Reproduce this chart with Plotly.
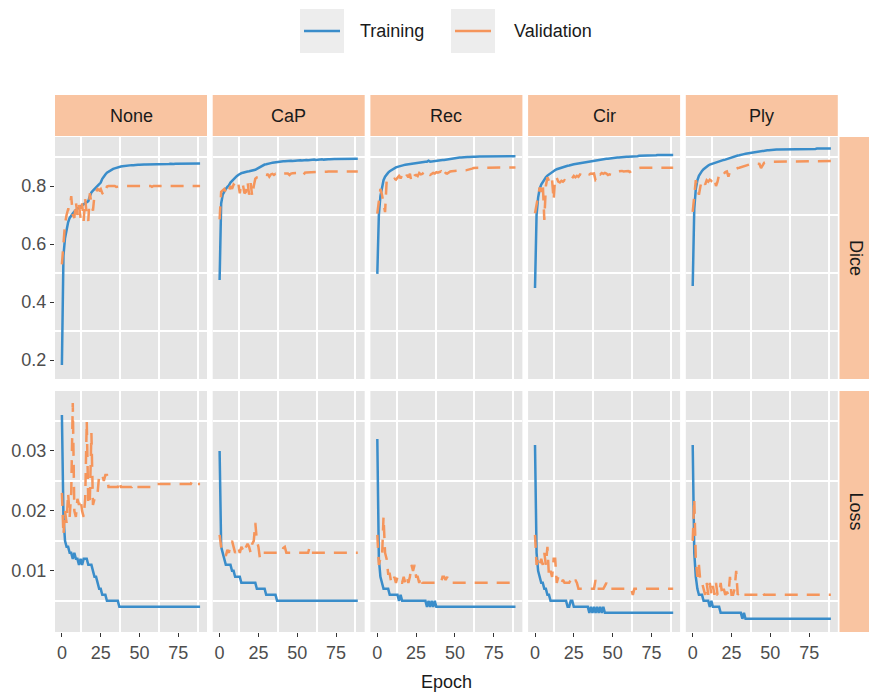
import plotly.graph_objects as go

# ---------------- data ----------------
MODELS = ["None", "CaP", "Rec", "Cir", "Ply"]
METRICS = ["Dice", "Loss"]
SERIES = ["Training", "Validation"]
X_TICKS = [0, 25, 50, 75]
DICE_TICKS = [0.2, 0.4, 0.6, 0.8]
DICE_TICK_TEXT = ["0.2", "0.4", "0.6", "0.8"]
LOSS_TICKS = [0.01, 0.02, 0.03]
LOSS_TICK_TEXT = ["0.01", "0.02", "0.03"]

NONE_TRAIN_DICE = [
    0.183, 0.560, 0.620, 0.655, 0.675, 0.690, 0.700, 0.705, 0.712, 0.718,
    0.722, 0.726, 0.730, 0.735, 0.738, 0.742, 0.745, 0.748, 0.765, 0.778,
    0.784, 0.790, 0.795, 0.800, 0.806, 0.812, 0.825, 0.834, 0.840, 0.846,
    0.850, 0.853, 0.856, 0.859, 0.861, 0.863, 0.864, 0.866, 0.867, 0.868,
    0.869, 0.870, 0.870, 0.871, 0.871, 0.872, 0.872, 0.873, 0.872, 0.873,
    0.873, 0.874, 0.873, 0.874, 0.874, 0.874, 0.875, 0.874, 0.875, 0.875,
    0.875, 0.875, 0.876, 0.875, 0.876, 0.876, 0.875, 0.876, 0.876, 0.876,
    0.877, 0.876, 0.876, 0.877, 0.877, 0.876, 0.877, 0.877, 0.877, 0.877,
    0.877, 0.877, 0.878, 0.877, 0.877, 0.878, 0.878, 0.877, 0.878, 0.878]
NONE_VAL_DICE = [
    0.530, 0.620, 0.670, 0.700, 0.720, 0.720, 0.765, 0.700, 0.690, 0.745,
    0.700, 0.735, 0.690, 0.740, 0.680, 0.755, 0.700, 0.680, 0.775, 0.740,
    0.715, 0.770, 0.780, 0.790, 0.785, 0.790, 0.775, 0.768, 0.785, 0.798,
    0.800, 0.800, 0.800, 0.800, 0.800, 0.797, 0.798, 0.800, 0.800, 0.800,
    0.800, 0.800, 0.800, 0.800, 0.798, 0.800, 0.800, 0.800, 0.800, 0.800,
    0.800, 0.800, 0.800, 0.800, 0.800, 0.800, 0.800, 0.800, 0.797, 0.800,
    0.800, 0.800, 0.800, 0.800, 0.800, 0.800, 0.800, 0.800, 0.800, 0.800,
    0.800, 0.800, 0.800, 0.800, 0.800, 0.800, 0.800, 0.800, 0.800, 0.800,
    0.800, 0.800, 0.800, 0.800, 0.800, 0.800, 0.800, 0.800, 0.800, 0.800]
NONE_TRAIN_LOSS = [
    0.036, 0.019, 0.015, 0.014, 0.014, 0.013, 0.013, 0.012, 0.013, 0.012,
    0.012, 0.011, 0.012, 0.011, 0.012, 0.012, 0.012, 0.011, 0.011, 0.011,
    0.010, 0.009, 0.009, 0.008, 0.007, 0.007, 0.006, 0.006, 0.006, 0.005,
    0.005, 0.005, 0.005, 0.005, 0.005, 0.005, 0.005, 0.004, 0.004, 0.004,
    0.004, 0.004, 0.004, 0.004, 0.004, 0.004, 0.004, 0.004, 0.004, 0.004,
    0.004, 0.004, 0.004, 0.004, 0.004, 0.004, 0.004, 0.004, 0.004, 0.004,
    0.004, 0.004, 0.004, 0.004, 0.004, 0.004, 0.004, 0.004, 0.004, 0.004,
    0.004, 0.004, 0.004, 0.004, 0.004, 0.004, 0.004, 0.004, 0.004, 0.004,
    0.004, 0.004, 0.004, 0.004, 0.004, 0.004, 0.004, 0.004, 0.004, 0.004]
NONE_VAL_LOSS = [
    0.023, 0.016, 0.020, 0.018, 0.023, 0.019, 0.023, 0.038, 0.020, 0.019,
    0.022, 0.021, 0.022, 0.020, 0.019, 0.022, 0.035, 0.021, 0.022, 0.033,
    0.021, 0.022, 0.022, 0.023, 0.026, 0.026, 0.026, 0.025, 0.026, 0.026,
    0.024, 0.024, 0.024, 0.024, 0.024, 0.024, 0.024, 0.025, 0.024, 0.024,
    0.024, 0.024, 0.024, 0.024, 0.024, 0.024, 0.0245, 0.024, 0.024, 0.024,
    0.024, 0.024, 0.024, 0.024, 0.024, 0.024, 0.024, 0.024, 0.024, 0.0245,
    0.0245, 0.0245, 0.0245, 0.0245, 0.0245, 0.0245, 0.0245, 0.0245, 0.0245, 0.0245,
    0.0245, 0.0245, 0.0245, 0.0245, 0.0245, 0.0245, 0.0245, 0.0245, 0.0245, 0.0245,
    0.0245, 0.0245, 0.0245, 0.0245, 0.025, 0.0245, 0.0245, 0.0245, 0.0245, 0.0245]

CAP_TRAIN_DICE = [
    0.476, 0.740, 0.770, 0.782, 0.790, 0.797, 0.802, 0.812, 0.818, 0.824,
    0.830, 0.834, 0.838, 0.842, 0.844, 0.846, 0.848, 0.849, 0.850, 0.851,
    0.852, 0.853, 0.854, 0.856, 0.859, 0.862, 0.866, 0.869, 0.872, 0.874,
    0.875, 0.877, 0.878, 0.879, 0.880, 0.881, 0.882, 0.882, 0.883, 0.884,
    0.884, 0.885, 0.885, 0.886, 0.886, 0.887, 0.887, 0.886, 0.887, 0.888,
    0.888, 0.888, 0.889, 0.888, 0.889, 0.889, 0.890, 0.889, 0.890, 0.890,
    0.890, 0.891, 0.890, 0.891, 0.891, 0.891, 0.892, 0.891, 0.892, 0.892,
    0.892, 0.892, 0.893, 0.892, 0.893, 0.893, 0.893, 0.893, 0.893, 0.894,
    0.893, 0.894, 0.894, 0.894, 0.894, 0.894, 0.894, 0.894, 0.894, 0.894]
CAP_VAL_DICE = [
    0.685, 0.780, 0.785, 0.790, 0.780, 0.795, 0.785, 0.800, 0.790, 0.805,
    0.800, 0.795, 0.810, 0.775, 0.810, 0.805, 0.775, 0.780, 0.815, 0.770,
    0.810, 0.765, 0.800, 0.825, 0.830, 0.830, 0.832, 0.835, 0.838, 0.840,
    0.838, 0.840, 0.832, 0.840, 0.842, 0.838, 0.842, 0.840, 0.843, 0.842,
    0.843, 0.842, 0.843, 0.844, 0.843, 0.838, 0.843, 0.844, 0.845, 0.844,
    0.845, 0.845, 0.846, 0.845, 0.838, 0.846, 0.847, 0.847, 0.847, 0.848,
    0.848, 0.848, 0.848, 0.849, 0.849, 0.849, 0.849, 0.849, 0.849, 0.849,
    0.850, 0.850, 0.850, 0.850, 0.850, 0.850, 0.850, 0.850, 0.850, 0.850,
    0.850, 0.850, 0.850, 0.850, 0.850, 0.850, 0.850, 0.850, 0.850, 0.850]
CAP_TRAIN_LOSS = [
    0.030, 0.014, 0.013, 0.012, 0.011, 0.011, 0.011, 0.011, 0.010, 0.010,
    0.009, 0.009, 0.009, 0.009, 0.008, 0.008, 0.008, 0.008, 0.008, 0.008,
    0.008, 0.008, 0.008, 0.008, 0.007, 0.007, 0.007, 0.007, 0.007, 0.007,
    0.006, 0.006, 0.006, 0.006, 0.006, 0.006, 0.006, 0.005, 0.005, 0.005,
    0.005, 0.005, 0.005, 0.005, 0.005, 0.005, 0.005, 0.005, 0.005, 0.005,
    0.005, 0.005, 0.005, 0.005, 0.005, 0.005, 0.005, 0.005, 0.005, 0.005,
    0.005, 0.005, 0.005, 0.005, 0.005, 0.005, 0.005, 0.005, 0.005, 0.005,
    0.005, 0.005, 0.005, 0.005, 0.005, 0.005, 0.005, 0.005, 0.005, 0.005,
    0.005, 0.005, 0.005, 0.005, 0.005, 0.005, 0.005, 0.005, 0.005, 0.005]
CAP_VAL_LOSS = [
    0.016, 0.014, 0.0135, 0.013, 0.0125, 0.0135, 0.013, 0.0145, 0.015, 0.014,
    0.013, 0.0135, 0.014, 0.013, 0.014, 0.0135, 0.013, 0.014, 0.0145, 0.014,
    0.013, 0.0145, 0.015, 0.018, 0.015, 0.014, 0.012, 0.0125, 0.013, 0.013,
    0.013, 0.013, 0.013, 0.013, 0.013, 0.013, 0.013, 0.013, 0.013, 0.013,
    0.013, 0.0138, 0.014, 0.013, 0.013, 0.013, 0.013, 0.013, 0.013, 0.013,
    0.013, 0.013, 0.013, 0.013, 0.013, 0.013, 0.013, 0.013, 0.014, 0.013,
    0.013, 0.013, 0.013, 0.013, 0.013, 0.013, 0.013, 0.013, 0.013, 0.013,
    0.013, 0.013, 0.013, 0.013, 0.013, 0.013, 0.013, 0.013, 0.013, 0.013,
    0.013, 0.013, 0.013, 0.013, 0.013, 0.013, 0.013, 0.013, 0.013, 0.013]

REC_TRAIN_DICE = [
    0.497, 0.700, 0.765, 0.800, 0.820, 0.832, 0.840, 0.846, 0.851, 0.855,
    0.858, 0.861, 0.864, 0.866, 0.868, 0.869, 0.870, 0.872, 0.873, 0.874,
    0.875, 0.876, 0.877, 0.878, 0.879, 0.879, 0.880, 0.881, 0.882, 0.882,
    0.883, 0.884, 0.884, 0.887, 0.884, 0.885, 0.886, 0.887, 0.887, 0.888,
    0.888, 0.889, 0.890, 0.890, 0.891, 0.892, 0.893, 0.894, 0.895, 0.895,
    0.896, 0.897, 0.897, 0.898, 0.898, 0.899, 0.899, 0.900, 0.900, 0.900,
    0.901, 0.901, 0.901, 0.901, 0.902, 0.902, 0.902, 0.902, 0.902, 0.902,
    0.902, 0.903, 0.903, 0.903, 0.903, 0.903, 0.903, 0.903, 0.903, 0.903,
    0.903, 0.903, 0.903, 0.903, 0.903, 0.903, 0.903, 0.903, 0.903, 0.903]
REC_VAL_DICE = [
    0.705, 0.760, 0.790, 0.770, 0.740, 0.710, 0.815, 0.820, 0.818, 0.822,
    0.820, 0.825, 0.822, 0.830, 0.835, 0.826, 0.838, 0.832, 0.825, 0.838,
    0.830, 0.842, 0.815, 0.828, 0.836, 0.838, 0.834, 0.845, 0.840, 0.842,
    0.846, 0.850, 0.840, 0.843, 0.838, 0.842, 0.845, 0.843, 0.848, 0.846,
    0.847, 0.850, 0.832, 0.840, 0.845, 0.843, 0.848, 0.850, 0.851, 0.852,
    0.852, 0.853, 0.853, 0.853, 0.854, 0.853, 0.854, 0.854, 0.855, 0.856,
    0.858, 0.860, 0.862, 0.863, 0.863, 0.863, 0.863, 0.863, 0.863, 0.863,
    0.864, 0.864, 0.864, 0.864, 0.864, 0.864, 0.864, 0.864, 0.864, 0.864,
    0.864, 0.864, 0.864, 0.864, 0.864, 0.864, 0.864, 0.864, 0.864, 0.864]
REC_TRAIN_LOSS = [
    0.032, 0.012, 0.009, 0.008, 0.007, 0.007, 0.007, 0.007, 0.006, 0.006,
    0.006, 0.006, 0.006, 0.006, 0.005, 0.006, 0.005, 0.005, 0.005, 0.005,
    0.005, 0.005, 0.005, 0.005, 0.005, 0.005, 0.005, 0.005, 0.005, 0.005,
    0.005, 0.005, 0.004, 0.005, 0.004, 0.005, 0.004, 0.005, 0.004, 0.004,
    0.004, 0.004, 0.004, 0.004, 0.004, 0.004, 0.004, 0.004, 0.004, 0.004,
    0.004, 0.004, 0.004, 0.004, 0.004, 0.004, 0.004, 0.004, 0.004, 0.004,
    0.004, 0.004, 0.004, 0.004, 0.004, 0.004, 0.004, 0.004, 0.004, 0.004,
    0.004, 0.004, 0.004, 0.004, 0.004, 0.004, 0.004, 0.004, 0.004, 0.004,
    0.004, 0.004, 0.004, 0.004, 0.004, 0.004, 0.004, 0.004, 0.004, 0.004]
REC_VAL_LOSS = [
    0.016, 0.011, 0.012, 0.012, 0.019, 0.013, 0.012, 0.0095, 0.0095, 0.008,
    0.008, 0.009, 0.008, 0.009, 0.009, 0.008, 0.008, 0.009, 0.008, 0.009,
    0.008, 0.009, 0.011, 0.010, 0.011, 0.009, 0.009, 0.008, 0.009, 0.008,
    0.008, 0.008, 0.008, 0.008, 0.008, 0.008, 0.008, 0.008, 0.008, 0.008,
    0.008, 0.008, 0.009, 0.009, 0.0085, 0.009, 0.008, 0.008, 0.008, 0.008,
    0.008, 0.008, 0.008, 0.008, 0.008, 0.008, 0.008, 0.008, 0.008, 0.008,
    0.008, 0.008, 0.008, 0.008, 0.008, 0.008, 0.008, 0.008, 0.008, 0.008,
    0.008, 0.008, 0.008, 0.008, 0.008, 0.008, 0.008, 0.008, 0.008, 0.008,
    0.008, 0.008, 0.008, 0.008, 0.008, 0.008, 0.008, 0.008, 0.008, 0.008]

CIR_TRAIN_DICE = [
    0.448, 0.700, 0.760, 0.790, 0.805, 0.815, 0.822, 0.830, 0.836, 0.840,
    0.845, 0.850, 0.852, 0.855, 0.858, 0.860, 0.862, 0.864, 0.866, 0.867,
    0.869, 0.870, 0.871, 0.873, 0.874, 0.875, 0.876, 0.877, 0.878, 0.879,
    0.880, 0.881, 0.882, 0.883, 0.884, 0.885, 0.886, 0.887, 0.888, 0.889,
    0.890, 0.890, 0.891, 0.892, 0.892, 0.893, 0.894, 0.894, 0.895, 0.896,
    0.896, 0.897, 0.897, 0.898, 0.898, 0.899, 0.899, 0.900, 0.900, 0.901,
    0.901, 0.901, 0.902, 0.902, 0.903, 0.903, 0.903, 0.904, 0.904, 0.904,
    0.905, 0.905, 0.905, 0.905, 0.906, 0.906, 0.906, 0.906, 0.906, 0.907,
    0.907, 0.907, 0.907, 0.907, 0.907, 0.907, 0.907, 0.907, 0.907, 0.907]
CIR_VAL_DICE = [
    0.706, 0.740, 0.775, 0.795, 0.780, 0.810, 0.683, 0.800, 0.830, 0.815,
    0.805, 0.820, 0.752, 0.830, 0.828, 0.815, 0.812, 0.818, 0.815, 0.820,
    0.818, 0.822, 0.825, 0.820, 0.826, 0.835, 0.830, 0.835, 0.832, 0.840,
    0.838, 0.842, 0.836, 0.840, 0.842, 0.840, 0.843, 0.842, 0.843, 0.820,
    0.822, 0.843, 0.840, 0.845, 0.842, 0.845, 0.843, 0.838, 0.840, 0.838,
    0.840, 0.842, 0.845, 0.850, 0.851, 0.850, 0.852, 0.850, 0.851, 0.853,
    0.852, 0.848, 0.852, 0.855, 0.858, 0.860, 0.862, 0.862, 0.863, 0.863,
    0.863, 0.863, 0.863, 0.863, 0.863, 0.863, 0.863, 0.863, 0.863, 0.863,
    0.863, 0.863, 0.863, 0.863, 0.863, 0.863, 0.863, 0.863, 0.863, 0.863]
CIR_TRAIN_LOSS = [
    0.031, 0.013, 0.010, 0.009, 0.008, 0.008, 0.007, 0.007, 0.006, 0.006,
    0.005, 0.005, 0.005, 0.005, 0.005, 0.005, 0.005, 0.005, 0.005, 0.005,
    0.005, 0.004, 0.004, 0.005, 0.005, 0.004, 0.004, 0.004, 0.004, 0.004,
    0.004, 0.004, 0.004, 0.004, 0.004, 0.003, 0.004, 0.003, 0.004, 0.003,
    0.004, 0.003, 0.004, 0.003, 0.004, 0.003, 0.003, 0.003, 0.003, 0.003,
    0.003, 0.003, 0.003, 0.003, 0.003, 0.003, 0.003, 0.003, 0.003, 0.003,
    0.003, 0.003, 0.003, 0.003, 0.003, 0.003, 0.003, 0.003, 0.003, 0.003,
    0.003, 0.003, 0.003, 0.003, 0.003, 0.003, 0.003, 0.003, 0.003, 0.003,
    0.003, 0.003, 0.003, 0.003, 0.003, 0.003, 0.003, 0.003, 0.003, 0.003]
CIR_VAL_LOSS = [
    0.016, 0.011, 0.012, 0.011, 0.012, 0.011, 0.013, 0.011, 0.014, 0.009,
    0.010, 0.009, 0.012, 0.012, 0.008, 0.009, 0.008, 0.008, 0.0085, 0.008,
    0.008, 0.008, 0.008, 0.0085, 0.008, 0.008, 0.0085, 0.008, 0.007, 0.007,
    0.007, 0.007, 0.007, 0.007, 0.007, 0.007, 0.007, 0.007, 0.007, 0.0085,
    0.007, 0.007, 0.007, 0.007, 0.007, 0.0075, 0.008, 0.007, 0.007, 0.007,
    0.007, 0.007, 0.007, 0.007, 0.007, 0.007, 0.007, 0.007, 0.007, 0.007,
    0.007, 0.007, 0.007, 0.006, 0.007, 0.007, 0.007, 0.007, 0.007, 0.007,
    0.007, 0.007, 0.007, 0.007, 0.007, 0.007, 0.007, 0.007, 0.007, 0.007,
    0.007, 0.007, 0.007, 0.007, 0.007, 0.007, 0.007, 0.007, 0.007, 0.007]

PLY_TRAIN_DICE = [
    0.455, 0.720, 0.790, 0.820, 0.835, 0.845, 0.852, 0.858, 0.863, 0.868,
    0.871, 0.874, 0.876, 0.878, 0.880, 0.882, 0.884, 0.886, 0.887, 0.889,
    0.890, 0.891, 0.893, 0.895, 0.896, 0.898, 0.899, 0.901, 0.903, 0.905,
    0.906, 0.908, 0.909, 0.910, 0.911, 0.912, 0.913, 0.914, 0.915, 0.916,
    0.917, 0.918, 0.919, 0.920, 0.920, 0.921, 0.922, 0.922, 0.923, 0.923,
    0.924, 0.924, 0.925, 0.925, 0.926, 0.926, 0.926, 0.927, 0.927, 0.927,
    0.927, 0.927, 0.928, 0.928, 0.928, 0.928, 0.928, 0.928, 0.928, 0.928,
    0.928, 0.928, 0.928, 0.928, 0.928, 0.928, 0.928, 0.928, 0.928, 0.928,
    0.929, 0.929, 0.929, 0.929, 0.929, 0.929, 0.929, 0.929, 0.929, 0.929]
PLY_VAL_DICE = [
    0.711, 0.760, 0.820, 0.790, 0.770, 0.800, 0.820, 0.815, 0.805, 0.820,
    0.815, 0.822, 0.818, 0.830, 0.825, 0.800, 0.815, 0.840, 0.848, 0.845,
    0.842, 0.848, 0.850, 0.832, 0.850, 0.852, 0.855, 0.858, 0.860, 0.862,
    0.863, 0.865, 0.866, 0.867, 0.870, 0.872, 0.874, 0.876, 0.877, 0.878,
    0.878, 0.877, 0.878, 0.876, 0.862, 0.870, 0.880, 0.882, 0.883, 0.884,
    0.884, 0.884, 0.884, 0.884, 0.884, 0.884, 0.884, 0.884, 0.884, 0.884,
    0.885, 0.885, 0.885, 0.885, 0.885, 0.885, 0.885, 0.885, 0.885, 0.885,
    0.885, 0.885, 0.885, 0.885, 0.885, 0.885, 0.885, 0.885, 0.885, 0.885,
    0.886, 0.886, 0.886, 0.886, 0.886, 0.886, 0.886, 0.886, 0.886, 0.886]
PLY_TRAIN_LOSS = [
    0.031, 0.013, 0.009, 0.007, 0.006, 0.006, 0.006, 0.005, 0.005, 0.005,
    0.005, 0.004, 0.005, 0.004, 0.004, 0.004, 0.004, 0.004, 0.003, 0.003,
    0.003, 0.003, 0.003, 0.003, 0.003, 0.003, 0.003, 0.003, 0.003, 0.003,
    0.003, 0.003, 0.002, 0.003, 0.002, 0.002, 0.002, 0.002, 0.002, 0.002,
    0.002, 0.002, 0.002, 0.002, 0.002, 0.002, 0.002, 0.002, 0.002, 0.002,
    0.002, 0.002, 0.002, 0.002, 0.002, 0.002, 0.002, 0.002, 0.002, 0.002,
    0.002, 0.002, 0.002, 0.002, 0.002, 0.002, 0.002, 0.002, 0.002, 0.002,
    0.002, 0.002, 0.002, 0.002, 0.002, 0.002, 0.002, 0.002, 0.002, 0.002,
    0.002, 0.002, 0.002, 0.002, 0.002, 0.002, 0.002, 0.002, 0.002, 0.002]
PLY_VAL_LOSS = [
    0.015, 0.022, 0.012, 0.009, 0.011, 0.008, 0.008, 0.007, 0.006, 0.008,
    0.006, 0.008, 0.006, 0.0075, 0.006, 0.008, 0.006, 0.006, 0.008, 0.006,
    0.007, 0.006, 0.0065, 0.006, 0.009, 0.006, 0.006, 0.007, 0.010, 0.006,
    0.0065, 0.006, 0.006, 0.006, 0.006, 0.006, 0.006, 0.006, 0.006, 0.006,
    0.006, 0.006, 0.006, 0.006, 0.006, 0.0065, 0.006, 0.006, 0.006, 0.006,
    0.006, 0.006, 0.006, 0.006, 0.006, 0.006, 0.006, 0.006, 0.006, 0.006,
    0.006, 0.006, 0.006, 0.006, 0.006, 0.006, 0.006, 0.006, 0.006, 0.006,
    0.006, 0.006, 0.006, 0.006, 0.006, 0.006, 0.006, 0.006, 0.006, 0.006,
    0.006, 0.006, 0.006, 0.006, 0.006, 0.006, 0.006, 0.006, 0.006, 0.006]

DATA = {
    ("None", "Dice"): (NONE_TRAIN_DICE, NONE_VAL_DICE),
    ("None", "Loss"): (NONE_TRAIN_LOSS, NONE_VAL_LOSS),
    ("CaP", "Dice"): (CAP_TRAIN_DICE, CAP_VAL_DICE),
    ("CaP", "Loss"): (CAP_TRAIN_LOSS, CAP_VAL_LOSS),
    ("Rec", "Dice"): (REC_TRAIN_DICE, REC_VAL_DICE),
    ("Rec", "Loss"): (REC_TRAIN_LOSS, REC_VAL_LOSS),
    ("Cir", "Dice"): (CIR_TRAIN_DICE, CIR_VAL_DICE),
    ("Cir", "Loss"): (CIR_TRAIN_LOSS, CIR_VAL_LOSS),
    ("Ply", "Dice"): (PLY_TRAIN_DICE, PLY_VAL_DICE),
    ("Ply", "Loss"): (PLY_TRAIN_LOSS, PLY_VAL_LOSS),
}

# ---------------- style / layout ----------------
W, H = 869, 692
FONT = "Liberation Sans, Arial, Helvetica, sans-serif"
C_TRAIN = "#3A8DCA"
C_VAL = "#F5955B"
PANEL_BG = "#E5E5E5"
STRIP_BG = "#F9C4A1"
KEY_BG = "#EDEDED"
TICK_COL = "#4D4D4D"
TEXT_COL = "#1A1A1A"

COL_LEFT = [55, 212.7, 370.4, 528.1, 685.8]
COL_W = 152
ROW_TOP = [137, 391]
ROW_BOT = [379, 632]
X_RANGE = [-4.45, 93.45]
Y_RANGE = {"Dice": [0.1345, 0.969], "Loss": [-0.0002, 0.04]}
X_MINOR = [12.5, 37.5, 62.5, 87.5]
Y_MINOR = {"Dice": [0.3, 0.5, 0.7, 0.9], "Loss": [0.005, 0.015, 0.025, 0.035]}


def fx(px):
    return px / W


def fy(py):
    return 1 - py / H


fig = go.Figure()
layout = dict(
    width=W, height=H, autosize=False,
    margin=dict(l=0, r=0, t=0, b=0),
    paper_bgcolor="white", plot_bgcolor=PANEL_BG,
    showlegend=False,
    font=dict(family=FONT, size=18, color=TEXT_COL),
)
shapes = []
annotations = []

for r, metric in enumerate(METRICS):
    for c, model in enumerate(MODELS):
        k = r * len(MODELS) + c + 1
        xa = "x" if k == 1 else f"x{k}"
        ya = "y" if k == 1 else f"y{k}"
        train, val = DATA[(model, metric)]
        fig.add_trace(go.Scatter(
            x=list(range(len(train))), y=train, xaxis=xa, yaxis=ya,
            mode="lines", name="Training",
            line=dict(color=C_TRAIN, width=2.5)))
        fig.add_trace(go.Scatter(
            x=list(range(len(val))), y=val, xaxis=xa, yaxis=ya,
            mode="lines", name="Validation",
            line=dict(color=C_VAL, width=2.5, dash="13px,9px")))
        bottom = (r == len(METRICS) - 1)
        left = (c == 0)
        layout["xaxis" if k == 1 else f"xaxis{k}"] = dict(
            domain=[fx(COL_LEFT[c]), fx(COL_LEFT[c] + COL_W)],
            anchor=ya, range=X_RANGE, showgrid=False, zeroline=False,
            showline=False,
            tickvals=X_TICKS if bottom else [],
            ticktext=[str(v) for v in X_TICKS] if bottom else [],
            ticks="outside" if bottom else "", ticklen=4, tickwidth=1.1,
            tickcolor="#333333", showticklabels=bottom,
            tickfont=dict(family=FONT, size=18, color=TICK_COL),
            minor=dict(showgrid=True, tickvals=X_MINOR, gridcolor="white",
                       gridwidth=1.6, ticks=""),
        )
        layout["yaxis" if k == 1 else f"yaxis{k}"] = dict(
            domain=[fy(ROW_BOT[r]), fy(ROW_TOP[r])],
            anchor=xa, range=Y_RANGE[metric], showgrid=False,
            zeroline=False, showline=False,
            tickvals=(DICE_TICKS if metric == "Dice" else LOSS_TICKS) if left else [],
            ticktext=(DICE_TICK_TEXT if metric == "Dice" else LOSS_TICK_TEXT) if left else [],
            ticks="outside" if left else "", ticklen=4, tickwidth=1.1,
            tickcolor="#333333", showticklabels=left,
            tickfont=dict(family=FONT, size=18, color=TICK_COL),
            minor=dict(showgrid=True, tickvals=Y_MINOR[metric], gridcolor="white",
                       gridwidth=1.6, ticks=""),
        )

# top strips
for c, model in enumerate(MODELS):
    shapes.append(dict(type="rect", xref="paper", yref="paper",
                       x0=fx(COL_LEFT[c]), x1=fx(COL_LEFT[c] + COL_W),
                       y0=fy(136), y1=fy(95), fillcolor=STRIP_BG, line=dict(width=0),
                       layer="below"))
    annotations.append(dict(text=model, xref="paper", yref="paper",
                            x=fx(COL_LEFT[c] + COL_W / 2), y=fy(116),
                            showarrow=False, xanchor="center", yanchor="middle",
                            font=dict(family=FONT, size=18, color=TEXT_COL)))
# right strips
for r, metric in enumerate(METRICS):
    shapes.append(dict(type="rect", xref="paper", yref="paper",
                       x0=fx(839.5), x1=fx(869),
                       y0=fy(ROW_BOT[r]), y1=fy(ROW_TOP[r]),
                       fillcolor=STRIP_BG, line=dict(width=0), layer="below"))
    annotations.append(dict(text=metric, xref="paper", yref="paper",
                            x=fx(856), y=fy((ROW_TOP[r] + ROW_BOT[r]) / 2),
                            showarrow=False, textangle=90,
                            xanchor="center", yanchor="middle",
                            font=dict(family=FONT, size=18, color=TEXT_COL)))

# axis title
annotations.append(dict(text="Epoch", xref="paper", yref="paper",
                        x=fx((COL_LEFT[0] + COL_LEFT[-1] + COL_W) / 2), y=fy(682),
                        showarrow=False, xanchor="center", yanchor="middle",
                        font=dict(family=FONT, size=18, color=TEXT_COL)))

# legend (drawn manually so that keys show solid lines as in the reference)
LEG = [("Training", C_TRAIN, 300, 358), ("Validation", C_VAL, 451, 512)]
for name, col, kx, tx in LEG:
    shapes.append(dict(type="rect", xref="paper", yref="paper",
                       x0=fx(kx), x1=fx(kx + 44), y0=fy(53), y1=fy(9),
                       fillcolor=KEY_BG, line=dict(width=0)))
    shapes.append(dict(type="line", xref="paper", yref="paper",
                       x0=fx(kx + 4), x1=fx(kx + 40), y0=fy(31), y1=fy(31),
                       line=dict(color=col, width=2.6)))
    annotations.append(dict(text=name, xref="paper", yref="paper",
                            x=fx(tx), y=fy(31), showarrow=False,
                            xanchor="left", yanchor="middle",
                            font=dict(family=FONT, size=18, color=TEXT_COL)))

layout["shapes"] = shapes
layout["annotations"] = annotations
fig.update_layout(**layout)
fig.write_html("out.html")
